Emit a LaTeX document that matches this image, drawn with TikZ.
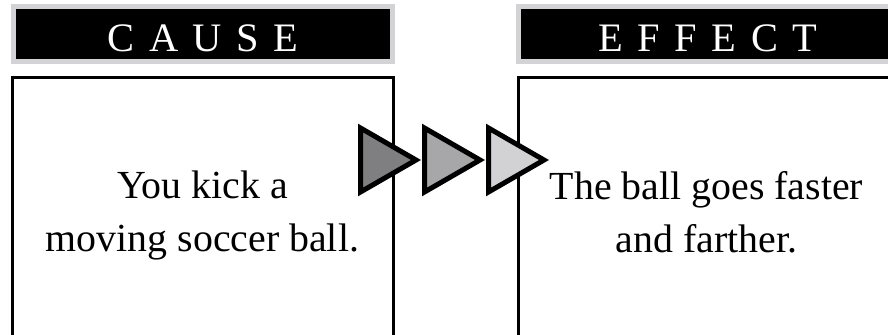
\documentclass[tikz,border=0pt]{standalone}
\usepackage{fontspec}
\setmainfont{Liberation Serif}
\usepackage{tikz}
\usetikzlibrary{positioning}

\definecolor{hdrgrey}{RGB}{211,211,213}
\definecolor{tridark}{RGB}{127,127,129}
\definecolor{trimid}{RGB}{167,167,169}
\definecolor{trilight}{RGB}{210,210,212}

\begin{document}
\begin{tikzpicture}[
  x=0.03cm,y=-0.03cm,
  header/.style={fill=black,draw=hdrgrey,line width=0.15cm,inner sep=0pt,
    minimum width=11.37cm,minimum height=1.65cm,text=white,
    text height=30.7pt,text depth=0pt,
    font=\fontsize{34.5}{40}\selectfont,
    execute at begin node={\spaceskip=12.4pt\relax}},
  panel/.style={draw=black,line width=0.09cm,inner sep=0pt,
    minimum width=11.415cm,minimum height=10.275cm},
  caption/.style={align=center,font=\fontsize{34}{45.2}\selectfont},
  tri/.style={draw=black,line width=0.15cm,miter limit=10}
]
\useasboundingbox (0,0) rectangle (888,335);
\clip (0,0) rectangle (888,335);
\fill[white] (0,0) rectangle (888,335);
% headers
\node[header] (causehead) at (203,34) {C A U S E};
\node[header] (effecthead) at (708,34) {E F F E C T};
% boxes, open at the bottom edge
\node[panel] (causebox) at (203.25,248.75) {};
\node[panel] (effectbox) at (708.75,248.75) {};
% texts
\node[caption] (causetext) at (202.5,215) {You kick a\\moving soccer ball.};
\node[caption] (effecttext) at (706.5,212) {The ball goes faster\\and farther.};
% arrows between the boxes
\foreach \i/\c in {0/tridark,1/trimid,2/trilight}
  \draw[tri,fill=\c] ({360.5+64*\i},128) -- ({416+64*\i},160)
    -- ({360.5+64*\i},192) -- cycle;
\end{tikzpicture}
\end{document}
